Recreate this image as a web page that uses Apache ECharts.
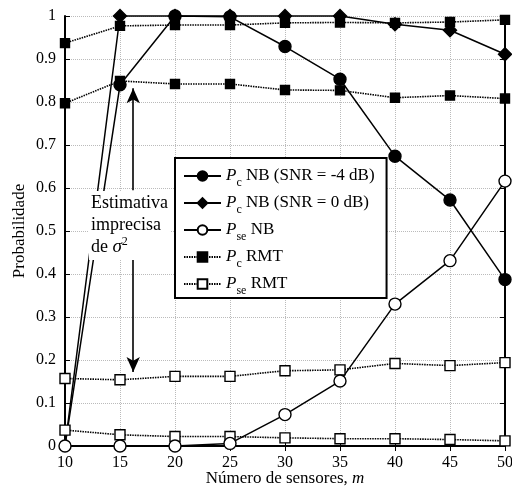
<!DOCTYPE html>
<html>
<head>
<meta charset="utf-8">
<script src="https://cdn.jsdelivr.net/npm/echarts@6/dist/echarts.min.js"></script>
<style>
html,body{margin:0;padding:0;background:#fff;}
#c{width:512px;height:488px;}
</style>
</head>
<body>
<div id="c"></div>
<script>
var sensores = [10, 15, 20, 25, 30, 35, 40, 45, 50];
var yTicks = [0, 0.1, 0.2, 0.3, 0.4, 0.5, 0.6, 0.7, 0.8, 0.9, 1];
var pcNBm4 = [0, 0.84, 1.0, 0.998, 0.929, 0.853, 0.674, 0.572, 0.387];
var pcNB0 = [0, 1.0, 1.0, 1.0, 1.0, 1.0, 0.981, 0.967, 0.911];
var pseNB = [0, 0, 0, 0.006, 0.073, 0.151, 0.33, 0.431, 0.616];
var pcRMTa = [0.937, 0.977, 0.979, 0.979, 0.984, 0.985, 0.984, 0.986, 0.991];
var pcRMTb = [0.797, 0.849, 0.842, 0.842, 0.828, 0.827, 0.810, 0.815, 0.808];
var pseRMTa = [0.157, 0.154, 0.162, 0.162, 0.175, 0.177, 0.192, 0.187, 0.194];
var pseRMTb = [0.037, 0.026, 0.022, 0.022, 0.019, 0.017, 0.017, 0.015, 0.012];
var legendNames = ['PcNBm4', 'PcNB0', 'PseNB', 'PcRMT', 'PseRMT'];
var legendLabels = {
  PcNBm4: '{it|P}{sub|c}{n| NB (SNR = -4 dB)}',
  PcNB0: '{it|P}{sub|c}{n| NB (SNR = 0 dB)}',
  PseNB: '{it|P}{sub|se}{n| NB}',
  PcRMT: '{it|P}{sub|c}{n| RMT}',
  PseRMT: '{it|P}{sub|se}{n| RMT}'
};

function pairs(arr) { return sensores.map(function (x, i) { return [x, arr[i]]; }); }

var FONT = 'Liberation Serif';
var solid = { color: '#000', width: 1.5, type: 'solid' };
var dotted = { color: '#000', width: 1.6, type: [1.5, 1] };

function mk(name, data, symbol, size, filled, ls, hideFirst) {
  return {
    name: name, type: 'line', data: pairs(data), symbol: symbol,
    symbolSize: hideFirst ? function (v, p) { return p.dataIndex === 0 ? 0 : size; } : size,
    showAllSymbol: true, clip: false, z: 3,
    lineStyle: ls,
    itemStyle: { color: filled ? '#000' : '#fff', borderColor: '#000', borderWidth: 1.4 }
  };
}

var series = [
  mk('PcRMT', pcRMTa, 'rect', 9, true, dotted),
  mk('PcRMT', pcRMTb, 'rect', 9, true, dotted),
  mk('PseRMT', pseRMTa, 'rect', 10, false, dotted),
  mk('PseRMT', pseRMTb, 'rect', 10, false, dotted),
  mk('PcNBm4', pcNBm4, 'circle', 12, true, solid, true),
  mk('PcNB0', pcNB0, 'diamond', 13, true, solid, true),
  mk('PseNB', pseNB, 'circle', 12, false, solid)
];
series[2].markLine = {
  silent: true, symbol: ['none', 'arrow'], symbolSize: [10, 15],
  lineStyle: { color: '#000', width: 1.6, type: 'solid' },
  label: { show: false },
  data: [
    [{ coord: [16.2, 0.595] }, { coord: [16.2, 0.832] }],
    [{ coord: [16.2, 0.45] }, { coord: [16.2, 0.172] }]
  ]
};

var chart = echarts.init(document.getElementById('c'), null, { renderer: 'canvas' });
var axisLine = { show: true, lineStyle: { color: '#000', width: 2 } };
chart.setOption({
  animation: false,
  backgroundColor: '#fff',
  textStyle: { fontFamily: FONT, color: '#000' },
  grid: { left: 65, right: 7, top: 16, bottom: 42, outerBoundsMode: 'none', containLabel: false },
  xAxis: [{
    type: 'value', min: 10, max: 50, interval: 5, position: 'bottom',
    axisLine: axisLine,
    axisTick: { show: true, inside: true, length: 5, lineStyle: { color: '#000', width: 1 } },
    axisLabel: { color: '#000', fontFamily: FONT, fontSize: 16, margin: 9 },
    splitLine: { show: true, lineStyle: { color: '#bbb', width: 1, type: 'dotted' } },
    name: 'Número de sensores, {it|m}', nameLocation: 'middle', nameGap: 24, nameMoveOverlap: false,
    nameTextStyle: { color: '#000', fontFamily: FONT, fontSize: 17,
      rich: { it: { fontStyle: 'italic', fontFamily: FONT, fontSize: 17, color: '#000' } } }
  }, {
    type: 'value', min: 10, max: 50, interval: 5, position: 'top',
    axisLine: axisLine,
    axisTick: { show: true, inside: true, length: 5, lineStyle: { color: '#000', width: 1 } },
    axisLabel: { show: false }, splitLine: { show: false }
  }],
  yAxis: [{
    type: 'value', min: 0, max: 1, interval: 0.1, position: 'left',
    axisLine: axisLine,
    axisTick: { show: true, inside: true, length: 5, lineStyle: { color: '#000', width: 1 } },
    axisLabel: { color: '#000', fontFamily: FONT, fontSize: 16, margin: 9,
      formatter: function (v) { return String(Math.round(v * 10) / 10); } },
    splitLine: { show: true, lineStyle: { color: '#bbb', width: 1, type: 'dotted' } },
    name: 'Probabilidade', nameLocation: 'middle', nameGap: 37, nameMoveOverlap: false,
    nameTextStyle: { color: '#000', fontFamily: FONT, fontSize: 17 }
  }, {
    type: 'value', min: 0, max: 1, interval: 0.1, position: 'right',
    axisLine: axisLine,
    axisTick: { show: true, inside: true, length: 5, lineStyle: { color: '#000', width: 1 } },
    axisLabel: { show: false }, splitLine: { show: false }
  }],
  legend: {
    data: legendNames, orient: 'vertical', left: 175, top: 158,
    backgroundColor: '#fff', borderColor: '#000', borderWidth: 2,
    padding: [5, 12, 1, 8], itemGap: 1, itemWidth: 37, itemHeight: 12,
    selectedMode: false, z: 10,
    formatter: function (n) { return legendLabels[n]; },
    textStyle: {
      color: '#000', fontFamily: FONT, fontSize: 17,
      rich: {
        it: { fontStyle: 'italic', fontSize: 17, fontFamily: FONT, color: '#000', lineHeight: 20 },
        n: { fontSize: 17, fontFamily: FONT, color: '#000', lineHeight: 20 },
        sub: { fontSize: 12, fontFamily: FONT, color: '#000', lineHeight: 12, padding: [14, 0, 0, 0] }
      }
    }
  },
  graphic: [{
    type: 'text', left: 89, top: 191, z: 100,
    style: {
      text: 'Estimativa\nimprecisa\nde {s|σ}{sup|2}',
      fill: '#000', font: '18px "Liberation Serif"', lineHeight: 22,
      backgroundColor: '#fff', padding: [1, 2, 2, 2],
      rich: {
        s: { fontStyle: 'italic', fontSize: 19, fontFamily: FONT, fill: '#000', lineHeight: 22 },
        sup: { fontSize: 12, fontFamily: FONT, fill: '#000', verticalAlign: 'top', lineHeight: 12 }
      }
    }
  }],
  series: series
});
</script>
</body>
</html>
